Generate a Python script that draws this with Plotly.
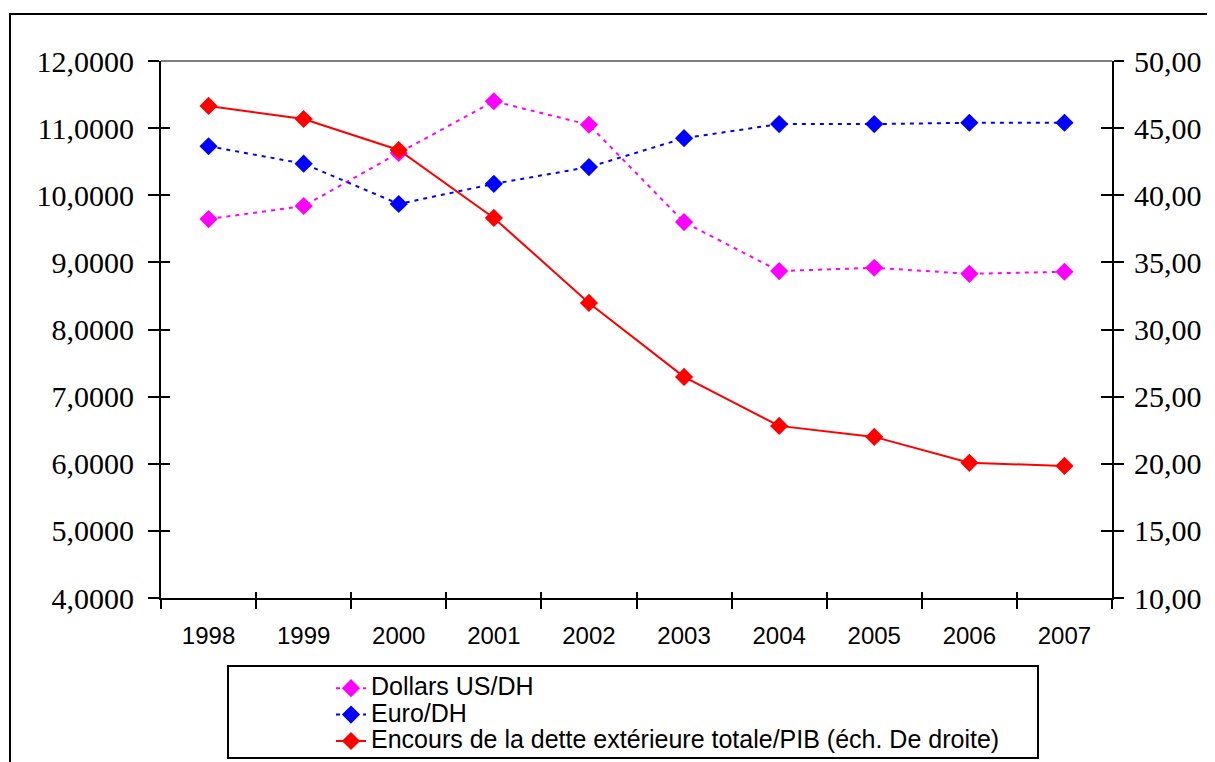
import plotly.graph_objects as go

years = ["1998", "1999", "2000", "2001", "2002", "2003", "2004", "2005", "2006", "2007"]
dollar_dh = [9.645, 9.84, 10.63, 11.40, 11.05, 9.60, 8.87, 8.92, 8.83, 8.86]
euro_dh = [10.73, 10.47, 9.87, 10.17, 10.42, 10.85, 11.06, 11.06, 11.08, 11.08]
dette_pib = [46.65, 45.68, 43.37, 38.31, 31.98, 26.47, 22.82, 22.00, 20.07, 19.84]

left_ticks = [4, 5, 6, 7, 8, 9, 10, 11, 12]
right_ticks = [10, 15, 20, 25, 30, 35, 40, 45, 50]

names = ["Dollars US/DH", "Euro/DH",
         "Encours de la dette extérieure totale/PIB (éch. De droite)"]

# page body margin offset compensation
OFF = 8
W, H = 1215 - OFF, 762 - OFF
ml, mt = 161 - OFF, 61 - OFF
pw, ph = 951, 537
mr = W - ml - pw
mb = H - mt - ph


def px_x(p):
    return (p - OFF - ml) / pw


def px_y(p):
    return (mt + ph - (p - OFF)) / ph


def big(s):
    return '<span style="font-size:25px">' + s + '</span>'


fig = go.Figure()
fig.add_trace(go.Scatter(
    x=years, y=dollar_dh, name=big(names[0]), mode="lines+markers",
    line=dict(color="#FF00FF", width=2, dash="4px,5px"),
    marker=dict(symbol="diamond", size=14, color="#FF00FF"),
))
fig.add_trace(go.Scatter(
    x=years, y=euro_dh, name=big(names[1]), mode="lines+markers",
    line=dict(color="#0000FF", width=2, dash="4px,5px"),
    marker=dict(symbol="diamond", size=14, color="#0000FF"),
))
fig.add_trace(go.Scatter(
    x=years, y=dette_pib, name=big(names[2]), mode="lines+markers", yaxis="y2",
    line=dict(color="#FF0000", width=2),
    marker=dict(symbol="diamond", size=14, color="#FF0000"),
))

serif = "Liberation Serif, Times New Roman, serif"
sans = "Liberation Sans, Arial, sans-serif"

fig.update_layout(
    width=W, height=H,
    margin=dict(l=ml, r=mr, t=mt, b=mb, pad=0, autoexpand=False),
    paper_bgcolor="white", plot_bgcolor="white",
    separators=", ",
    showlegend=True,
    legend=dict(
        x=px_x(331), y=px_y(670), xanchor="left", yanchor="top",
        bgcolor="rgba(0,0,0,0)", borderwidth=0,
        font=dict(family=sans, size=18, color="black"),
        tracegroupgap=0, itemwidth=30,
    ),
    xaxis=dict(
        type="category", categoryorder="array", categoryarray=years,
        range=[-0.5, 9.5], tickson="boundaries", ticks="outside", ticklen=9,
        tickwidth=2, tickcolor="black", showline=True, linecolor="black", linewidth=2,
        showgrid=False, zeroline=False, tickfont=dict(family=sans, size=24, color="black"),
        ticklabelstandoff=15, fixedrange=True,
    ),
    xaxis2=dict(
        overlaying="x", anchor="y", side="bottom", range=[-0.5, 9.5],
        tickmode="array", tickvals=[i - 0.5 for i in range(11)],
        ticks="inside", ticklen=6, tickwidth=2, tickcolor="black",
        showticklabels=False, showline=False, showgrid=False, zeroline=False,
    ),
    yaxis=dict(
        range=[4, 12], tickmode="array", tickvals=left_ticks, tickformat=".4f",
        ticks="outside", ticklen=11, tickwidth=2, tickcolor="black",
        showline=True, linecolor="black", linewidth=2, showgrid=False, zeroline=False,
        tickfont=dict(family=serif, size=30, color="black"), ticklabelstandoff=8,
    ),
    yaxis2=dict(
        range=[10, 50], overlaying="y", side="right", anchor="x",
        tickmode="array", tickvals=right_ticks, tickformat=".2f",
        ticks="outside", ticklen=10, tickwidth=2, tickcolor="black",
        showline=True, linecolor="black", linewidth=2, showgrid=False, zeroline=False,
        tickfont=dict(family=serif, size=30, color="black"), ticklabelstandoff=4,
    ),
    yaxis3=dict(
        range=[4, 12], overlaying="y", side="left", anchor="x",
        tickmode="array", tickvals=left_ticks, ticks="inside", ticklen=9,
        tickwidth=2, tickcolor="black", showticklabels=False, showline=False,
        showgrid=False, zeroline=False,
    ),
    yaxis4=dict(
        range=[10, 50], overlaying="y", side="right", anchor="x",
        tickmode="array", tickvals=right_ticks, ticks="inside", ticklen=11,
        tickwidth=2, tickcolor="black", showticklabels=False, showline=False,
        showgrid=False, zeroline=False,
    ),
)

# invisible helper traces so the overlay tick axes are drawn
fig.add_trace(go.Scatter(x=[None], y=[None], xaxis="x2", yaxis="y", showlegend=False, hoverinfo="skip"))
fig.add_trace(go.Scatter(x=[None], y=[None], xaxis="x", yaxis="y3", showlegend=False, hoverinfo="skip"))
fig.add_trace(go.Scatter(x=[None], y=[None], xaxis="x", yaxis="y4", showlegend=False, hoverinfo="skip"))

# top border of the plot area (gray)
fig.add_shape(type="line", xref="paper", yref="paper", x0=0, x1=1, y0=1, y1=1,
              line=dict(color="#808080", width=2), layer="below")
# outer chart border
fig.add_shape(type="rect", xref="paper", yref="paper",
              x0=px_x(10), x1=px_x(1240), y0=px_y(14), y1=px_y(800),
              line=dict(color="black", width=2), fillcolor="rgba(0,0,0,0)")
# legend frame
fig.add_shape(type="rect", xref="paper", yref="paper",
              x0=px_x(228), x1=px_x(1038), y0=px_y(666), y1=px_y(758),
              line=dict(color="black", width=2), fillcolor="rgba(0,0,0,0)")

fig.write_html("out.html")
